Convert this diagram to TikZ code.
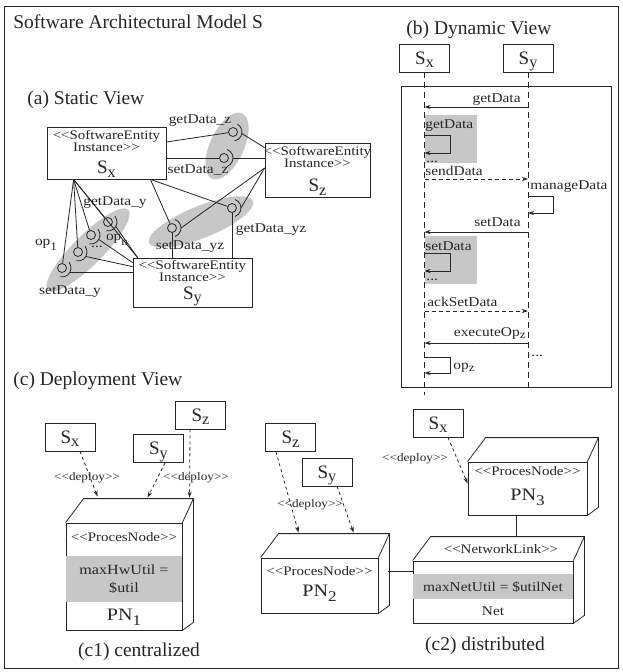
\documentclass[tikz,border=0pt]{standalone}
\usepackage{graphicx}
\usepackage{fontspec}
\setmainfont{Liberation Serif}
\newfontfamily\widefont[FakeStretch=1.15]{Liberation Serif}
\usetikzlibrary{arrows.meta, positioning, calc}

% lowered index as in the drawing
\newcommand{\subs}[1]{\raisebox{-0.17em}{\scalebox{0.85}{#1}}}
% provided interface: ball with its socket
\newcommand{\iface}[3]{%
  \node[ball] (#1) at (#2) {};
  \draw ([shift={(#3-70:9)}]#1.center) arc[start angle=#3-70, end angle=#3+70, radius=9];
  \coordinate (#1s) at ([shift={(#3:9)}]#1.center);
}
% top and side faces of a deployment node
\newcommand{\pnfaces}[1]{%
  \draw (#1.north west) -- ++(18,-24) -- ($(#1.north east)+(11,-24)$) -- (#1.north east);
  \draw ($(#1.north east)+(11,-24)$) -- ($(#1.south east)+(11,-8)$) -- (#1.south east);
}

\begin{document}
\begin{tikzpicture}[x=1pt, y=-1pt, line width=0.8pt, color=black!85,
    head/.style={font=\fontsize{19.5}{22}\selectfont, inner sep=0pt},
    lbl/.style={font=\widefont\fontsize{13.4}{14}\selectfont, inner sep=0pt},
    stereo/.style={font=\widefont\fontsize{13}{12}\selectfont, inner sep=0pt, align=center},
    deplbl/.style={font=\widefont\fontsize{11.5}{12}\selectfont, inner sep=0pt},
    sname/.style={font=\fontsize{19}{20}\selectfont, inner sep=0pt},
    pnname/.style={font=\widefont\fontsize{17.5}{18}\selectfont, inner sep=0pt},
    ent/.style={draw, inner sep=0pt},
    front/.style={draw, inner sep=0pt},
    sbox/.style={draw, minimum width=50pt, minimum height=28pt, inner sep=0pt, text depth=0pt, font=\fontsize{19}{20}\selectfont},
    ball/.style={draw, circle, minimum size=9pt, inner sep=0pt},
    blob/.style={fill=black!22},
    msg/.style={-{Stealth[length=6pt,width=4pt]}},
    amsg/.style={msg, dash pattern=on 4pt off 3pt},
    life/.style={dash pattern=on 6pt off 4pt},
    dep/.style={-{Stealth[length=6pt,width=4pt]}, dash pattern=on 3pt off 3pt}]
  \useasboundingbox (0,0) rectangle (622,672);
  \draw (4,6) rectangle (618,668);
  \node[head, anchor=base west] (title) at (13,28) {Software Architectural Model S};

  % (a) static view
  \node[head, anchor=base west] (ta) at (27,104) {(a) Static View};
  \fill[blob, rotate around={-25:(227,146)}] (227,146) ellipse[x radius=17pt, y radius=36pt];
  \fill[blob, rotate around={45:(88,250)}] (88,250) ellipse[x radius=57pt, y radius=15pt];
  \fill[blob, rotate around={22:(201,222)}] (201,222) ellipse[x radius=56pt, y radius=16pt];

  \node[ent, minimum width=119pt, minimum height=52pt] (sx) at (106.5,153) {};
  \node[stereo, below=3pt of sx.north] (sxst) {<{}<SoftwareEntity\\Instance>{}>};
  \node[sname, above=2pt of sx.south] (sxn) {S\subs{x}};
  \node[ent, minimum width=105pt, minimum height=54pt] (sz) at (317.5,170) {};
  \node[stereo, below=3pt of sz.north] (szst) {<{}<SoftwareEntity\\Instance>{}>};
  \node[sname, above=2pt of sz.south] (szn) {S\subs{z}};
  \node[ent, minimum width=119pt, minimum height=49pt] (sy) at (192.5,282.5) {};
  \node[stereo, below=2pt of sy.north] (syst) {<{}<SoftwareEntity\\Instance>{}>};
  \node[sname, above=1pt of sy.south] (syn) {S\subs{y}};

  \iface{gdz}{233,132}{10}
  \iface{sdz}{224,158}{0}
  \iface{opa}{62,268}{30}
  \iface{opb}{78,252}{30}
  \iface{opc}{91,235}{30}
  \iface{opd}{108,222}{30}
  \iface{sdyz}{172,228}{0}
  \iface{gdyz}{232,208}{0}

  \coordinate (sxb) at ($(sx.south west)+(27,0)$);
  \coordinate (sxr) at ($(sx.south east)+(-16,0)$);
  \coordinate (szl) at ($(sz.west)+(0,-2)$);
  \draw ($(sx.east)+(0,-11)$) -- (gdz);
  \draw (gdzs) -- ($(sz.north west)+(0,5)$);
  \draw ($(sx.east)+(0,5)$) -- (sdz);
  \draw (sdzs) -- (sz.west |- sdzs);
  \foreach \i in {opa,opb,opc,opd} \draw (sxb) -- (\i);
  \draw (sxb) -- ($(sy.north west)+(5,0)$);
  \draw (opas) -- (sy.west |- opas);
  \draw (opbs) -- ($(sy.north west)+(0,9)$);
  \draw (opcs) -- ($(sy.north west)+(0,5)$);
  \draw (opds) -- ($(sy.north west)+(5,0)$);
  \draw (sxr) -- (sdyz);
  \draw (sxr) -- (gdyz);
  \draw (sdyz) -- (sdyz |- sy.north);
  \draw (gdyz) -- (gdyz |- sy.north);
  \draw (sdyzs) -- (szl);
  \draw (gdyzs) -- (szl);

  \node[lbl] (lgdz) at (200,121) {getData\_z};
  \node[lbl] (lsdz) at (198,170) {setData\_z};
  \node[lbl] (lgdy) at (115,203) {getData\_y};
  \node[lbl] (lop1) at (46,245) {op\subs{\raisebox{-0.2em}{1}}};
  \node[lbl] (lopn) at (117,240) {op\subs{\raisebox{-0.2em}{n}}};
  \node[lbl] (ldots) at (97,247) {...};
  \node[lbl] (lsdy) at (70,292) {setData\_y};
  \node[lbl] (lsdyz) at (190,247) {setData\_yz};
  \node[lbl] (lgdyz) at (271,230) {getData\_yz};

  % (b) dynamic view
  \node[head, anchor=base west] (tb) at (406,34) {(b) Dynamic View};
  \node[sbox] (dsx) at (424.5,58) {S\subs{x}};
  \node[sbox] (dsy) at (528,58) {S\subs{y}};
  \node[draw, minimum width=210pt, minimum height=301pt] (dfr) at (506,236.5) {};
  \fill[blob] (424.5,115) rectangle (477,163);
  \fill[blob] (424.5,236) rectangle (477,284);
  \coordinate (dxe) at (424.5,395);
  \coordinate (dye) at (528,387);
  \draw[life] (dsx) -- (dxe);
  \draw[life] (dsy) -- (dye);

  \draw[msg] (dsy |- 0,107) -- (dsx |- 0,107);
  \draw[msg] (dsx |- 0,135) -| (450,153) -- (dsx |- 0,153);
  \draw[amsg] (dsx |- 0,179) -- (dsy |- 0,179);
  \draw[msg] (dsy |- 0,196) -| (553,213) -- (dsy |- 0,213);
  \draw[msg] (dsy |- 0,232) -- (dsx |- 0,232);
  \draw[msg] (dsx |- 0,253) -| (450,271) -- (dsx |- 0,271);
  \draw[amsg] (dsx |- 0,311) -- (dsy |- 0,311);
  \draw[msg] (dsy |- 0,343) -- (dsx |- 0,343);
  \draw[msg] (dsx |- 0,357) -| (450,373) -- (dsx |- 0,373);

  \node[lbl, anchor=base east] (m1) at (521,102) {getData};
  \node[lbl, anchor=base west] (m2) at (425,128) {getData};
  \node[lbl, anchor=base west] (m3) at (426,162) {...};
  \node[lbl, anchor=base west] (m4) at (425,175) {sendData};
  \node[lbl, anchor=base west] (m5) at (530,189) {manageData};
  \node[lbl, anchor=base east] (m6) at (521,226) {setData};
  \node[lbl, anchor=base west] (m7) at (425,250) {setData};
  \node[lbl, anchor=base west] (m8) at (426,280) {...};
  \node[lbl, anchor=base west] (m9) at (427,306) {ackSetData};
  \node[lbl, anchor=base east] (m10) at (526,336) {executeOp\subs{z}};
  \node[lbl, anchor=base west] (m11) at (531,356) {...};
  \node[lbl, anchor=base west] (m12) at (453,369) {op\subs{z}};

  % (c) deployment view
  \node[head, anchor=base west] (tc) at (13,385) {(c) Deployment View};
  % (c1)
  \node[sbox] (csx) at (70,437) {S\subs{x}};
  \node[sbox] (csy) at (158.5,448.5) {S\subs{y}};
  \node[sbox] (csz) at (200.5,415) {S\subs{z}};
  \node[front, minimum width=116pt, minimum height=107pt] (pn1) at (124,576.5) {};
  \fill[blob] ($(pn1.north west)+(0.4,33)$) rectangle ($(pn1.north east)+(-0.4,79)$);
  \pnfaces{pn1}
  \node[stereo] (pn1st) at (124,537) {<{}<ProcesNode>{}>};
  \node[lbl, align=center, font=\widefont\fontsize{14}{18}\selectfont] (pn1u) at (124,579) {maxHwUtil =\\\$util};
  \node[pnname] (pn1n) at (124,617) {PN\subs{\raisebox{-0.15em}{1}}};
  \draw[dep] ($(csx.south)+(10,0)$) -- ($(pn1.north west)+(32,-26)$);
  \draw[dep] ($(csy.south)+(6.5,0)$) -- ($(pn1.north west)+(82,-25)$);
  \draw[dep] ($(csz.south)+(-10.5,0)$) -- ($(pn1.north west)+(124,-25)$);
  \node[deplbl] (d1) at (87,478) {<{}<deploy>{}>};
  \node[deplbl] (d2) at (196,478) {<{}<deploy>{}>};
  \node[head, anchor=base] (tc1) at (139,656) {(c1) centralized};

  % (c2)
  \node[sbox] (c2sz) at (290.5,437.5) {S\subs{z}};
  \node[sbox] (c2sy) at (327,472) {S\subs{y}};
  \node[sbox] (c2sx) at (438,423) {S\subs{x}};
  \node[front, minimum width=117pt, minimum height=55pt] (pn2) at (319.5,585.5) {};
  \pnfaces{pn2}
  \node[stereo] (pn2st) at (319.5,571) {<{}<ProcesNode>{}>};
  \node[pnname] (pn2n) at (319.5,593) {PN\subs{\raisebox{-0.15em}{2}}};
  \node[front, minimum width=119pt, minimum height=53pt] (pn3) at (527.5,488.5) {};
  \pnfaces{pn3}
  \node[stereo] (pn3st) at (527.5,471) {<{}<ProcesNode>{}>};
  \node[pnname] (pn3n) at (527.5,497) {PN\subs{\raisebox{-0.15em}{3}}};
  \node[front, minimum width=160pt, minimum height=62pt] (nl) at (493,592) {};
  \fill[blob] ($(nl.north west)+(0.4,13)$) rectangle ($(nl.north east)+(-0.4,38)$);
  \pnfaces{nl}
  \node[stereo] (nlst) at (501,549) {<{}<NetworkLink>{}>};
  \node[lbl] (nlu) at (493,587) {maxNetUtil = \$utilNet};
  \node[lbl] (nln) at (493,611) {Net};
  \draw[dep] ($(c2sz.south)+(-14.5,0)$) -- ($(pn2.north west)+(38,-25)$);
  \draw[dep] ($(c2sy.south)+(10,0)$) -- ($(pn2.north west)+(93,-25)$);
  \draw[dep] ($(c2sx.south)+(10,0)$) -- ($(pn3.west)+(0,-5)$);
  \node[deplbl] (d3) at (310,505) {<{}<deploy>{}>};
  \node[deplbl] (d4) at (415,459) {<{}<deploy>{}>};
  \draw ($(pn3.south)+(-11.5,0)$) -- ($(nl.north)+(23,-24)$);
  \draw ($(pn2.east)+(10,-14.5)$) -- ($(nl.west)+(0,-21)$);
  \node[head, anchor=base] (tc2) at (485,650) {(c2) distributed};
\end{tikzpicture}
\end{document}
